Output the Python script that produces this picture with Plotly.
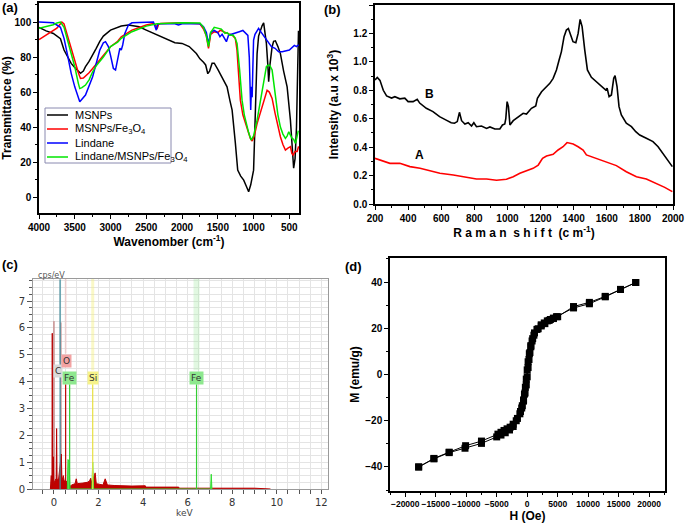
import plotly.graph_objects as go

W, H = 685, 524

# ---------------------------
# (a) FTIR data
# ---------------------------
msnps_wn = [4000, 3900, 3800, 3700, 3650, 3600, 3550, 3500, 3450, 3420, 3380, 3350, 3300, 3250, 3200,
            3150, 3100, 3000, 2900, 2850, 2750, 2600, 2500, 2400, 2300, 2200, 2100, 2000, 1900, 1800,
            1750, 1700, 1670, 1640, 1615, 1580, 1550, 1500, 1450, 1400, 1371, 1330, 1300, 1255, 1222,
            1180, 1138, 1100, 1069, 1040, 1000, 985, 975, 960, 951, 930, 905, 880, 859, 840, 821, 800,
            789, 770, 741, 720, 695, 660, 625, 580, 531, 485, 460, 440, 420, 400, 385, 372]
msnps_t = [97, 95, 93.5, 90.5, 84, 80, 76.4, 74, 71.6, 70.7, 72, 74.5, 77.5, 81, 85,
           89, 92, 95.4, 97, 97.7, 98.3, 97.3, 95.4, 93.5, 91.6, 90, 88.2, 87.8, 86, 82,
           79, 77, 75.5, 70.5, 72, 76.5, 76.5, 73, 69, 65, 63, 55, 49.7, 31, 15.4,
           12, 9.7, 6, 3, 7, 15.4, 35, 49.7, 70, 82, 92, 95.4, 98, 99.6, 95, 87.8, 75,
           65.9, 76, 85.9, 89, 89.3, 86, 82, 72, 63, 44, 28, 16.5, 22, 40, 70, 95]

msnps_fe_wn = [4000, 3900, 3800, 3750, 3700, 3680, 3650, 3600, 3550, 3500, 3450, 3420, 3380, 3350, 3300,
               3250, 3200, 3100, 3000, 2900, 2850, 2700, 2500, 2400, 2370, 2350, 2330, 2300, 2000, 1750,
               1700, 1660, 1630, 1600, 1550, 1500, 1465, 1420, 1371, 1330, 1301, 1255, 1232, 1209, 1185,
               1150, 1115, 1080, 1045, 1020, 990, 951, 920, 881, 850, 811, 780, 741, 700, 671, 640, 625,
               590, 555, 520, 485, 465, 447, 420, 391, 370]
msnps_fe_t = [90, 92.5, 95, 96.5, 99, 100, 99, 91.6, 84, 78, 71, 67.8, 68, 69, 71,
              73.5, 76, 81, 85.9, 89, 91.6, 95.4, 98.3, 99.2, 98.5, 96, 98.5, 99.2, 99.6, 99,
              96, 92, 85, 93, 94.5, 94, 95.4, 94.5, 93.5, 93, 92.6, 90.7, 84, 68.7, 55.4,
              47, 42, 37, 33.5, 32, 35, 42, 46, 51.6, 56, 61, 60, 56.4, 48, 42, 37, 34.5,
              30, 26.9, 28, 28.8, 25, 24, 26, 26, 29]

lindane_wn = [4000, 3800, 3700, 3650, 3600, 3550, 3500, 3430, 3350, 3250, 3150, 3100, 3070, 3030, 3000,
              2960, 2930, 2900, 2870, 2850, 2830, 2800, 2750, 2700, 2500, 2400, 2360, 2340, 2300, 2100,
              2050, 2000, 1750, 1700, 1660, 1630, 1600, 1550, 1500, 1470, 1440, 1400, 1380, 1350, 1300,
              1200, 1150, 1100, 1080, 1060, 1050, 1040, 1030, 1020, 1010, 1000, 980, 950, 930, 900,
              850, 800, 750, 700, 650, 600, 500, 430, 400, 370]
lindane_t = [100, 99.6, 97, 90.7, 81, 70.7, 63, 54.5, 58.3, 68.8, 84, 88.2, 88.8, 86, 81,
             73.5, 72.6, 78.3, 85, 84, 86.9, 93.5, 98.3, 99.6, 100, 100, 95.4, 99, 99, 99,
             98.3, 99, 99, 97.3, 94, 87.6, 94, 95.2, 94, 91.6, 93, 90.5, 88.8, 92.5, 93.3,
             94.5, 95.2, 93.3, 92.4, 80, 63, 49.7, 63, 57, 74.5, 89.7, 93, 95.4, 96.4, 94.5,
             91.6, 88.8, 86, 85, 83, 83, 84, 86.7, 86, 87]

lmf_wn = [4000, 3900, 3800, 3750, 3700, 3650, 3600, 3550, 3500, 3450, 3430, 3400, 3350, 3300, 3250,
          3200, 3100, 3000, 2900, 2850, 2700, 2500, 2350, 2000, 1750, 1700, 1660, 1630, 1600, 1550,
          1500, 1450, 1400, 1370, 1330, 1287, 1260, 1231, 1195, 1161, 1130, 1101, 1070, 1035, 1000,
          951, 920, 881, 850, 821, 800, 775, 741, 720, 695, 660, 625, 590, 555, 530, 508, 490, 461,
          440, 415, 395, 375]
lmf_t = [96.4, 97.5, 98.5, 99.5, 100, 97, 89.7, 82, 74.5, 65, 62, 62.5, 64, 67, 71.6,
         75, 80, 86, 88.5, 90.7, 94.5, 97.7, 99, 99.6, 99.5, 97, 92, 86, 94, 97,
         96.5, 96, 93.5, 94, 92.5, 92.6, 91, 87.8, 72.6, 55.4, 47, 42, 37, 32.6, 35,
         44, 51, 59, 67, 74.5, 75.4, 75.4, 72.6, 66, 57.3, 47, 40, 36, 33.5, 35, 37.3, 36, 33.5,
         33, 30.7, 34, 38]

ftir_names = ["MSNPs", "MSNPs/Fe<sub>3</sub>O<sub>4</sub>", "Lindane",
              "Lindane/MSNPs/Fe<sub>3</sub>O<sub>4</sub>"]
ftir_colors = ["#000000", "#ff0000", "#0000ff", "#00e600"]

# ---------------------------
# (b) Raman data
# ---------------------------
raman_b_x = [200, 214, 230, 250, 270, 300, 320, 350, 380, 400, 430, 455, 470, 510, 550, 590, 630, 660,
             680, 697, 710, 723, 743, 763, 783, 797, 813, 843, 874, 894, 924, 954, 970, 984, 990, 998,
             1006, 1015, 1035, 1065, 1095, 1115, 1145, 1171, 1181, 1206, 1236, 1256, 1276, 1296, 1312,
             1326, 1342, 1356, 1368, 1380, 1396, 1413, 1427, 1439, 1451, 1467, 1483, 1507, 1537, 1568,
             1594, 1602, 1614, 1628, 1642, 1650, 1662, 1674, 1688, 1718, 1749, 1775, 1799, 1839, 1879,
             1910, 1940, 1970, 1996]
raman_b_y = [0.872, 0.89, 0.87, 0.80, 0.76, 0.745, 0.755, 0.74, 0.745, 0.72, 0.72, 0.737, 0.71, 0.673,
             0.65, 0.615, 0.59, 0.572, 0.568, 0.58, 0.645, 0.586, 0.563, 0.572, 0.549, 0.572, 0.544,
             0.549, 0.532, 0.542, 0.528, 0.528, 0.556, 0.563, 0.60, 0.72, 0.685, 0.556, 0.586, 0.614,
             0.638, 0.633, 0.673, 0.69, 0.743, 0.79, 0.826, 0.849, 0.884, 0.943, 1.013, 1.072, 1.177,
             1.224, 1.234, 1.2, 1.142, 1.135, 1.2, 1.299, 1.248, 1.083, 0.943, 0.891, 0.861, 0.826,
             0.802, 0.814, 0.755, 0.767, 0.884, 0.903, 0.826, 0.685, 0.626, 0.568, 0.544, 0.509,
             0.485, 0.462, 0.439, 0.403, 0.356, 0.31, 0.263]

raman_a_x = [200, 240, 290, 350, 411, 472, 532, 592, 673, 753, 813, 874, 934, 994, 1035, 1075, 1115,
             1155, 1186, 1212, 1236, 1276, 1306, 1336, 1360, 1377, 1397, 1427, 1457, 1477, 1537, 1598,
             1658, 1718, 1779, 1839, 1900, 1950, 1996]
raman_a_y = [0.321, 0.305, 0.286, 0.286, 0.263, 0.251, 0.232, 0.216, 0.204, 0.188, 0.176, 0.176,
             0.167, 0.174, 0.192, 0.216, 0.234, 0.251, 0.274, 0.321, 0.338, 0.349, 0.38, 0.403, 0.432,
             0.427, 0.422, 0.403, 0.38, 0.345, 0.321, 0.298, 0.27, 0.227, 0.192, 0.176, 0.145, 0.117,
             0.087]

# ---------------------------
# (c) EDX data
# ---------------------------
edx_kev = [-0.16, -0.14, -0.12, -0.11, -0.09, -0.075, -0.06, -0.03, -0.01, 0.1, 0.12, 0.14, 0.2, 0.33,
           0.36, 0.42, 0.46, 0.55, 0.62, 0.72, 0.8, 0.95, 1.0, 1.05, 1.3, 1.5, 1.6, 1.65, 1.7, 1.85,
           1.9, 2.0, 2.2, 2.3, 2.4, 2.7, 3.0, 3.5, 4.1, 4.12, 5.6, 5.62, 9.0, 9.7, 9.72]
edx_cps = [0, 0.5, 0.5, 0, 0, 5.8, 0.3, 1.2, 0.2, 0.4, 2.25, 0.4, 0.3, 1.3,
           0.3, 0.5, 0.3, 0.3, 0.15, 0.1, 0.15, 0.2, 0.38, 0.2, 0.22, 0.25, 0.3, 0.4, 0.2, 0.6,
           0.2, 0.18, 0.15, 0.38, 0.15, 0.13, 0.12, 0.11, 0.12, 0.07, 0.07, 0.03, 0.03, 0.02, 0]

edx_pale_kev = [-0.02, 0.0, 0.02, 0.29, 0.31, 0.33]
edx_pale_cps = [0, 6.25, 0, 0, 6.2, 0]

edx_green_kev = [0.6, 0.63, 0.68, 0.72, 1.7, 1.74, 1.78, 7.03, 7.06, 7.09]
edx_green_cps = [0, 1.1, 1.0, 0, 0, 1.0, 0, 0, 0.55, 0]

edx_elements = ["C", "O", "Fe", "Si", "Fe"]
edx_energy = [0.277, 0.525, 0.705, 1.74, 6.40]
edx_label_kev = [0.2, 0.56, 0.7, 1.74, 6.40]
edx_label_cps = [4.4, 4.75, 4.12, 4.12, 4.12]
edx_line_top = [7.8, 3.9, 3.9, 3.9, 3.9]
edx_line_color = ["#3f8f9f", "#c00000", "#33cc33", "#e8e040", "#33cc33"]
edx_label_bg = ["#d9d9d9", "#f3a3a3", "#8ee88e", "#f6f38a", "#8ee88e"]
edx_band_color = ["rgba(200,200,200,0.5)", "rgba(240,170,170,0.35)", "rgba(0,0,0,0)",
                  "rgba(245,240,130,0.45)", "rgba(170,235,170,0.35)"]
edx_band_width = [2, 2, 0, 3, 6]

# ---------------------------
# (d) VSM data
# ---------------------------
h_down = [17800, 15300, 12800, 10200, 7600, 5000, 4300, 3600, 2900, 2300, 1800, 1200, 900, 600, 350,
          150, 0, -150, -300, -450, -600, -800, -1100, -1600, -2300, -2800, -3300, -3800, -4300,
          -4800, -7500, -10100, -12800, -15300, -17800]
m_down = [39.8, 36.8, 33.8, 31.2, 29.4, 25.0, 24.2, 23.4, 22.0, 21.0, 19.8, 18.0, 15.5, 12.5, 9.0,
          5.5, 2.0, -2.0, -5.5, -8.5, -11.0, -13.5, -16.0, -19.0, -21.5, -22.8, -23.5, -24.2, -25.0,
          -25.8, -28.8, -30.8, -33.6, -36.3, -40.0]
h_up = [-17800, -15300, -12800, -10200, -7500, -5000, -4300, -3600, -2900, -2300, -1800, -1200, -900,
        -600, -350, -150, 0, 150, 300, 450, 600, 800, 1100, 1600, 2300, 2800, 3300, 3800, 4300, 4800,
        7600, 10200, 12800, 15300, 17800]
m_up = [-40.0, -36.5, -33.8, -31.9, -29.8, -27.0, -26.2, -25.2, -24.0, -22.5, -20.0, -17.0, -14.5,
        -11.5, -8.0, -4.5, -1.0, 3.0, 6.5, 9.5, 12.0, 14.5, 17.0, 19.5, 21.5, 22.3, 23.2, 23.8, 24.4,
        25.0, 28.8, 30.6, 33.6, 36.8, 39.8]


def px_x(px):
    return px / W


def px_y(py):
    return 1 - py / H


fig = go.Figure()

# (a)
ftir_x = [msnps_wn, msnps_fe_wn, lindane_wn, lmf_wn]
ftir_y = [msnps_t, msnps_fe_t, lindane_t, lmf_t]
for wn, t, name, col in zip(ftir_x, ftir_y, ftir_names, ftir_colors):
    fig.add_trace(go.Scatter(x=wn, y=t, name=name, mode="lines", showlegend=False,
                             line=dict(color=col, width=1.5), xaxis="x", yaxis="y"))

# hand-built legend box so rows sit as close as in the original
fig.add_shape(type="rect", xref="paper", yref="paper", x0=px_x(45), x1=px_x(171),
              y0=px_y(163), y1=px_y(108), line=dict(color="#8a8ab0", width=1), fillcolor="white")
for i, (name, col) in enumerate(zip(ftir_names, ftir_colors)):
    yy = px_y(115 + 14 * i)
    fig.add_shape(type="line", xref="paper", yref="paper", x0=px_x(47), x1=px_x(68), y0=yy, y1=yy,
                  line=dict(color=col, width=1.5))
    fig.add_annotation(x=px_x(73), y=yy, xref="paper", yref="paper", text=name, showarrow=False,
                       xanchor="left", yanchor="middle", font=dict(size=11, color="black"))

# (b)
fig.add_trace(go.Scatter(x=raman_b_x, y=raman_b_y, mode="lines", showlegend=False,
                         line=dict(color="black", width=1.6), xaxis="x2", yaxis="y2"))
fig.add_trace(go.Scatter(x=raman_a_x, y=raman_a_y, mode="lines", showlegend=False,
                         line=dict(color="#ff0000", width=1.6), xaxis="x2", yaxis="y2"))

# (c)
for i, el in enumerate(edx_elements):
    if edx_band_width[i] > 0:
        fig.add_trace(go.Scatter(x=[edx_energy[i], edx_energy[i]], y=[edx_label_cps[i] + 0.3, 7.82],
                                 mode="lines", showlegend=False, hoverinfo="skip",
                                 line=dict(color=edx_band_color[i], width=edx_band_width[i]),
                                 xaxis="x3", yaxis="y3"))
fig.add_trace(go.Scatter(x=edx_pale_kev, y=edx_pale_cps, mode="lines", fill="tozeroy",
                         showlegend=False, line=dict(color="#c89090", width=1),
                         fillcolor="#c89090", xaxis="x3", yaxis="y3"))
fig.add_trace(go.Scatter(x=edx_kev, y=edx_cps, mode="lines", fill="tozeroy", showlegend=False,
                         line=dict(color="#b80000", width=1), fillcolor="#c00000",
                         xaxis="x3", yaxis="y3"))
fig.add_trace(go.Scatter(x=edx_green_kev, y=edx_green_cps, mode="lines", fill="tozeroy",
                         showlegend=False, line=dict(color="#33dd33", width=1),
                         fillcolor="#55dd55", xaxis="x3", yaxis="y3"))
for i, el in enumerate(edx_elements):
    fig.add_trace(go.Scatter(x=[edx_energy[i], edx_energy[i]], y=[0, edx_line_top[i]],
                             mode="lines", showlegend=False,
                             line=dict(color=edx_line_color[i], width=1.2),
                             xaxis="x3", yaxis="y3"))
    fig.add_annotation(x=edx_label_kev[i], y=edx_label_cps[i], xref="x3", yref="y3", text=el,
                       showarrow=False, bgcolor=edx_label_bg[i], borderpad=1,
                       font=dict(size=9, color="#333", family="DejaVu Sans"))

# (d)
for hx, my in [(h_down, m_down), (h_up, m_up)]:
    fig.add_trace(go.Scatter(x=hx, y=my, mode="lines+markers", showlegend=False,
                             line=dict(color="black", width=1),
                             marker=dict(symbol="square", size=7, color="black"),
                             xaxis="x4", yaxis="y4"))

bold = dict(size=10, color="black", weight="bold")
title_bold = dict(size=12, color="black", weight="bold")
frame = dict(showline=True, linecolor="black", linewidth=1.5, mirror=True, zeroline=False,
             showgrid=False, ticks="outside", ticklen=4, tickcolor="black", tickwidth=1.2,
             automargin=False)
edx_ax = dict(showline=True, linecolor="#9a9a9a", linewidth=1, mirror=True, zeroline=False,
              showgrid=True, gridcolor="#e4e4e4", gridwidth=1, ticks="outside", tickcolor="#555",
              tickfont=dict(size=10, color="#333", family="DejaVu Sans"), automargin=False)

fig.update_layout(
    width=W, height=H, margin=dict(l=0, r=0, t=0, b=0),
    paper_bgcolor="white", plot_bgcolor="white", showlegend=False,
    font=dict(family="Liberation Sans, Arial, sans-serif", color="black"),
    xaxis=dict(domain=[px_x(39), px_x(299)], anchor="y", range=[4000, 365], autorange=False,
               tick0=500, dtick=500, tickfont=bold,
               title=dict(text="Wavenomber (cm<sup>-1</sup>)", font=title_bold, standoff=6),
               minor=dict(dtick=250, ticks="outside", ticklen=2, tickcolor="black"), **frame),
    yaxis=dict(domain=[px_y(213), px_y(3)], anchor="x", range=[-9.1, 110.9], autorange=False,
               tick0=0, dtick=20, tickfont=bold,
               title=dict(text="Transmittance (%)", font=title_bold, standoff=6),
               minor=dict(dtick=10, ticks="outside", ticklen=2, tickcolor="black"), **frame),
    xaxis2=dict(domain=[px_x(375), px_x(673)], anchor="y2", range=[200, 2000], autorange=False,
                tick0=200, dtick=200, tickfont=bold,
                title=dict(text="R a m a n  s h i f t  (c m<sup>-1</sup>)", font=title_bold, standoff=6),
                minor=dict(dtick=100, ticks="outside", ticklen=2, tickcolor="black"), **frame),
    yaxis2=dict(domain=[px_y(204), px_y(5)], anchor="x2", range=[0, 1.4], autorange=False,
                tick0=0, dtick=0.2, tickformat=".1f", tickfont=bold,
                title=dict(text="Intensity (a.u x 10<sup>3</sup>)", font=title_bold, standoff=12),
                minor=dict(dtick=0.1, ticks="outside", ticklen=2, tickcolor="black"), **frame),
    xaxis3=dict(domain=[px_x(33), px_x(328)], anchor="y3", range=[-0.94, 12.3], autorange=False,
                tick0=0, dtick=2, ticklen=4,
                minor=dict(dtick=0.5, ticks="outside", ticklen=4, tickcolor="#555",
                           showgrid=True, gridcolor="#e4e4e4"), **edx_ax),
    yaxis3=dict(domain=[px_y(489), px_y(279)], anchor="x3", range=[0, 7.82], autorange=False,
                tick0=0, dtick=1, ticklen=5,
                minor=dict(dtick=0.25, ticks="outside", ticklen=3, tickcolor="#555",
                           showgrid=True, gridcolor="#e4e4e4"), **edx_ax),
    xaxis4=dict(domain=[px_x(390), px_x(665)], anchor="y4", range=[-22500, 22600], autorange=False,
                tick0=0, dtick=5000, tickformat="d", tickangle=0,
                tickfont=dict(size=8.5, color="black", weight="bold"),
                title=dict(text="H (Oe)", font=title_bold, standoff=3),
                minor=dict(dtick=2500, ticks="outside", ticklen=2, tickcolor="black"), **frame),
    yaxis4=dict(domain=[px_y(491), px_y(258)], anchor="x4", range=[-50.4, 50.4], autorange=False,
                tick0=0, dtick=20, tickfont=bold,
                title=dict(text="M (emu/g)", font=title_bold, standoff=3),
                minor=dict(dtick=10, ticks="outside", ticklen=2, tickcolor="black"), **frame),
)

# panel letters and in-plot labels
for txt, x, y in [("(a)", 0, 7), ("(b)", 322, 9), ("(c)", 0, 264), ("(d)", 343, 266)]:
    fig.add_annotation(x=px_x(x), y=px_y(y), xref="paper", yref="paper", text=f"<b>{txt}</b>",
                       showarrow=False, xanchor="left", yanchor="middle", font=dict(size=13))

fig.add_annotation(x=528, y=0.775, xref="x2", yref="y2", text="<b>B</b>", showarrow=False,
                   font=dict(size=12))
fig.add_annotation(x=468, y=0.345, xref="x2", yref="y2", text="<b>A</b>", showarrow=False,
                   font=dict(size=12))
fig.add_annotation(x=px_x(36), y=px_y(275), xref="paper", yref="paper", text="cps/eV",
                   showarrow=False, xanchor="left", font=dict(size=8, color="#555", family="DejaVu Sans"))
fig.add_annotation(x=px_x(174), y=px_y(520), xref="paper", yref="paper", text="keV",
                   showarrow=False, font=dict(size=9, color="#444", family="DejaVu Sans"))

# the page body has a default 8px margin; drop it so the figure fills the window
fig.write_html("out.html", config={"displayModeBar": False},
               post_script="document.body.style.margin='0px';")
